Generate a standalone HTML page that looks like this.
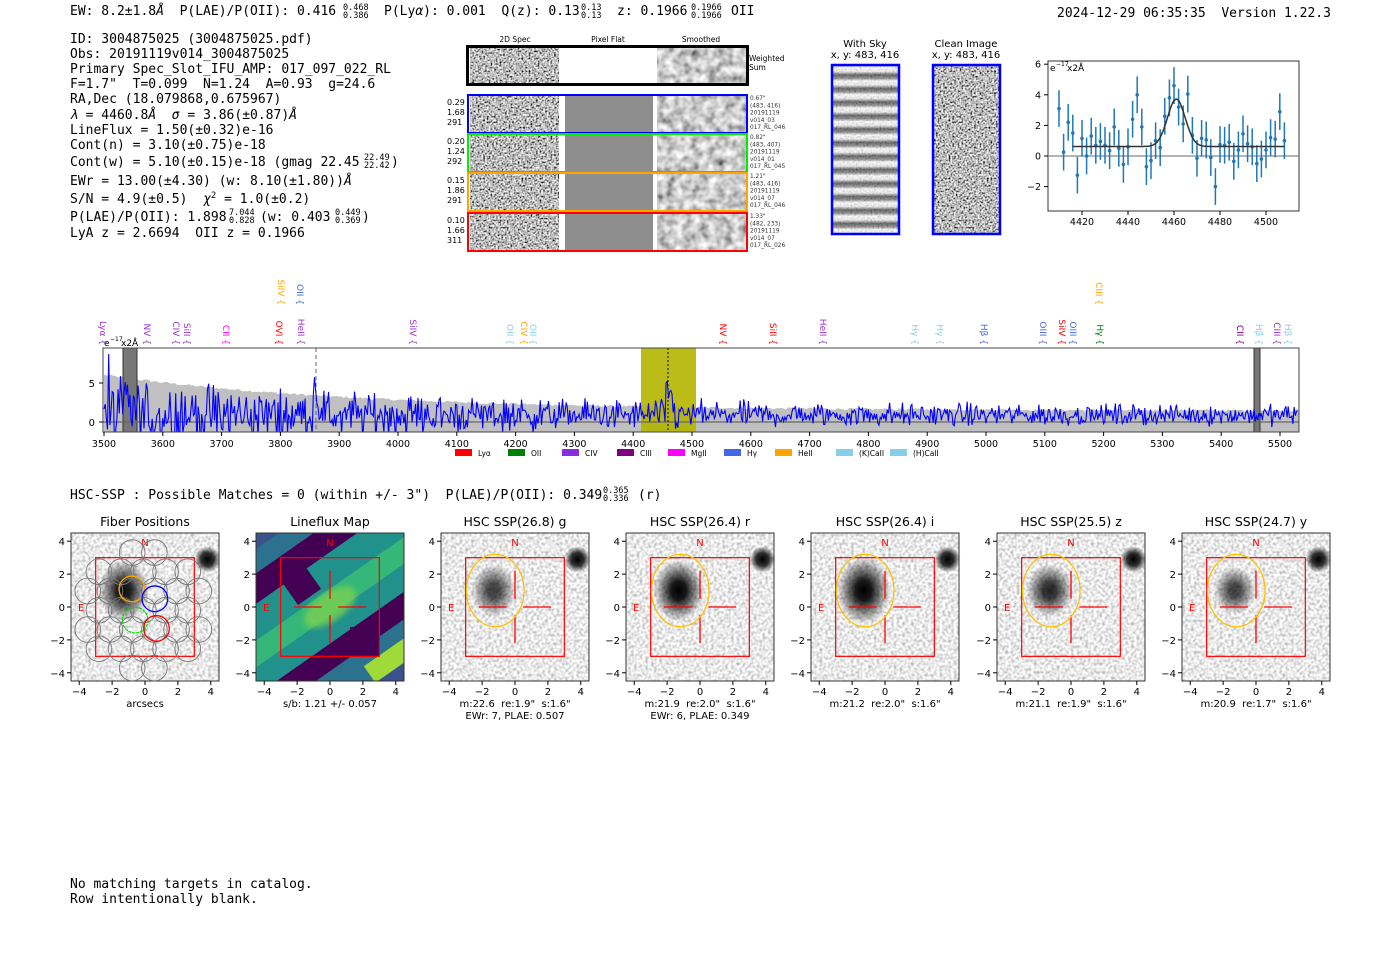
<!DOCTYPE html>
<html><head><meta charset="utf-8"><style>
body{margin:0;background:#fff;}
svg{display:block}
.m{font-family:"DejaVu Sans Mono","Liberation Mono",monospace;font-size:13px;white-space:pre}
.f{font-family:"DejaVu Sans Mono","Liberation Mono",monospace;font-size:8.5px}
.s{font-family:"DejaVu Sans","Liberation Sans",sans-serif;white-space:pre}
</style></head><body>
<svg id="sv" width="1400" height="953" viewBox="0 0 1400 953" xmlns="http://www.w3.org/2000/svg" xml:space="preserve">
<defs>
<filter id="nz" x="0" y="0" width="1" height="1"><feTurbulence type="fractalNoise" baseFrequency="0.55" numOctaves="1" seed="4"/><feColorMatrix type="matrix" values="2.2 0 0 0 -0.6 2.2 0 0 0 -0.6 2.2 0 0 0 -0.6 0 0 0 0 1"/></filter>
<filter id="nl" x="0" y="0" width="1" height="1"><feTurbulence type="fractalNoise" baseFrequency="0.35" numOctaves="1" seed="9"/><feColorMatrix type="matrix" values="1.2 0 0 0 0.22 1.2 0 0 0 0.22 1.2 0 0 0 0.22 0 0 0 0 1"/></filter>
<filter id="ns" x="0" y="0" width="1" height="1"><feTurbulence type="fractalNoise" baseFrequency="0.12" numOctaves="2" seed="2"/><feColorMatrix type="matrix" values="1.3 0 0 0 -0.05 1.3 0 0 0 -0.05 1.3 0 0 0 -0.05 0 0 0 0 1"/></filter>
<filter id="bl"><feGaussianBlur stdDeviation="3"/></filter>
<radialGradient id="gal"><stop offset="0" stop-color="#000" stop-opacity="1"/><stop offset="0.3" stop-color="#000" stop-opacity="0.9"/><stop offset="1" stop-color="#000" stop-opacity="0"/></radialGradient>
<radialGradient id="star"><stop offset="0" stop-color="#000"/><stop offset="0.5" stop-color="#000" stop-opacity="0.8"/><stop offset="1" stop-color="#000" stop-opacity="0"/></radialGradient>
<linearGradient id="sky" x1="0" y1="0" x2="0" y2="13.5" spreadMethod="repeat" gradientUnits="userSpaceOnUse"><stop offset="0" stop-color="#fff"/><stop offset="0.3" stop-color="#eee"/><stop offset="0.55" stop-color="#555"/><stop offset="0.8" stop-color="#888"/><stop offset="1" stop-color="#fff"/></linearGradient>
<clipPath id="spc"><rect x="103" y="348" width="1196" height="84"/></clipPath>
</defs>

<text class="m" x="70" y="15">EW: 8.2±1.8<tspan font-style="italic">Å</tspan>&#160; P(LAE)/P(OII): 0.416</text>
<text class="f" x="343" y="10">0.468</text><text class="f" x="343" y="18">0.386</text>
<text class="m" x="384" y="15">P(Ly<tspan font-style="italic">α</tspan>): 0.001&#160; Q(z): 0.13</text>
<text class="f" x="581" y="10">0.13</text><text class="f" x="581" y="18">0.13</text>
<text class="m" x="617" y="15">z: 0.1966</text>
<text class="f" x="691" y="10">0.1966</text><text class="f" x="691" y="18">0.1966</text>
<text class="m" x="731" y="15">OII</text>
<text class="m" x="1057" y="17">2024-12-29 06:35:35&#160; Version 1.22.3</text>

<g>
<text class="m" x="70" y="43">ID: 3004875025 (3004875025.pdf)</text>
<text class="m" x="70" y="58">Obs: 20191119v014_3004875025</text>
<text class="m" x="70" y="73">Primary Spec_Slot_IFU_AMP: 017_097_022_RL</text>
<text class="m" x="70" y="88">F=1.7"&#160; T=0.099&#160; N=1.24&#160; A=0.93&#160; g=24.6</text>
<text class="m" x="70" y="103">RA,Dec (18.079868,0.675967)</text>
<text class="m" x="70" y="119"><tspan font-style="italic">λ</tspan> = 4460.8<tspan font-style="italic">Å</tspan>&#160; <tspan font-style="italic">σ</tspan> = 3.86(±0.87)<tspan font-style="italic">Å</tspan></text>
<text class="m" x="70" y="134">LineFlux = 1.50(±0.32)e-16</text>
<text class="m" x="70" y="149">Cont(n) = 3.10(±0.75)e-18</text>
<text class="m" x="70" y="166">Cont(w) = 5.10(±0.15)e-18 (gmag 22.45</text>
<text class="f" x="364" y="160">22.49</text><text class="f" x="364" y="168">22.42</text><text class="m" x="391" y="166">)</text>
<text class="m" x="70" y="185">EWr = 13.00(±4.30) (w: 8.10(±1.80))<tspan font-style="italic">Å</tspan></text>
<text class="m" x="70" y="203">S/N = 4.9(±0.5)&#160; <tspan font-style="italic">χ</tspan><tspan style="font-size:9px" dy="-5">2</tspan><tspan dy="5"> = 1.0(±0.2)</tspan></text>
<text class="m" x="70" y="221">P(LAE)/P(OII): 1.898</text>
<text class="f" x="229" y="215">7.044</text><text class="f" x="229" y="223">0.828</text>
<text class="m" x="260" y="221">(w: 0.403</text>
<text class="f" x="335" y="215">0.449</text><text class="f" x="335" y="223">0.369</text><text class="m" x="362" y="221">)</text>
<text class="m" x="70" y="237">LyA z = 2.6694&#160; OII z = 0.1966</text>
</g>

<g class="s" font-size="7.5">
<text x="515" y="42" text-anchor="middle">2D Spec</text>
<text x="608" y="42" text-anchor="middle">Pixel Flat</text>
<text x="701" y="42" text-anchor="middle">Smoothed</text>
</g>
<rect x="470" y="47" width="89" height="37" filter="url(#nz)"/>
<rect x="657" y="47" width="89" height="37" filter="url(#ns)"/>
<rect x="467.5" y="46.5" width="280" height="38" fill="none" stroke="#000" stroke-width="3"/>
<text class="s" x="749" y="61" font-size="7.5">Weighted</text><text class="s" x="749" y="70" font-size="7.5">Sum</text>
<g id="rows"></g>

<g class="s" font-size="10" text-anchor="middle">
<text x="865" y="47">With Sky</text><text x="865" y="58">x, y: 483, 416</text>
<text x="966" y="47">Clean Image</text><text x="966" y="58">x, y: 483, 416</text>
</g>
<rect x="832" y="65" width="67" height="169" fill="url(#sky)"/>
<rect x="832" y="65" width="67" height="169" filter="url(#nz)" opacity="0.18"/>
<rect x="832" y="65" width="67" height="169" fill="none" stroke="#00f" stroke-width="2.5"/>
<rect x="933" y="65" width="67" height="169" filter="url(#nz)"/>
<rect x="933" y="65" width="67" height="169" fill="none" stroke="#00f" stroke-width="2.5"/>

<g id="fit"></g>
<g id="spec"></g>

<text class="m" x="70" y="499">HSC-SSP : Possible Matches = 0 (within +/- 3")&#160; P(LAE)/P(OII): 0.349</text>
<text class="f" x="603" y="493">0.365</text><text class="f" x="603" y="501">0.336</text>
<text class="m" x="638" y="499">(r)</text>
<g id="pan"></g>

<text class="m" x="70" y="888">No matching targets in catalog.</text>
<text class="m" x="70" y="903">Row intentionally blank.</text>
</svg>
<script>
var NS="http://www.w3.org/2000/svg";
var seed=12345;function rnd(){seed=(seed*1103515245+12345)%2147483648;return seed/2147483648;}
function gn(){return (rnd()+rnd()+rnd()+rnd()-2)*1.7;}
function E(p,tag,at,txt){var e=document.createElementNS(NS,tag);for(var k in at)e.setAttribute(k,at[k]);if(txt!==undefined)e.textContent=txt;p.appendChild(e);return e;}
var rows=document.getElementById('rows');
var rd=[[95,'#0000ff',['0.29','1.68','291'],['0.67"','(483, 416)','20191119','v014_03','017_RL_046']],
[134,'#00ee00',['0.20','1.24','292'],['0.82"','(483, 407)','20191119','v014_01','017_RL_045']],
[173,'#ffa500',['0.15','1.86','291'],['1.21"','(483, 416)','20191119','v014_07','017_RL_046']],
[213,'#ff0000',['0.10','1.66','311'],['1.33"','(482, 233)','20191119','v014_07','017_RL_026']]];
rd.forEach(function(r,i){var y=r[0];
E(rows,'rect',{x:470,y:y,width:89,height:38,filter:'url(#nz)'});
E(rows,'rect',{x:565,y:y,width:88,height:38,fill:'#8e8e8e'});
E(rows,'rect',{x:657,y:y,width:89,height:38,filter:'url(#ns)'});
E(rows,'rect',{x:468,y:y,width:279,height:38,fill:'none',stroke:r[1],'stroke-width':2});
r[2].forEach(function(t,j){E(rows,'text',{x:447,y:y+10+j*10,'class':'s','font-size':8},t);});
r[3].forEach(function(t,j){E(rows,'text',{x:750,y:y+5+j*7.3,'class':'s','font-size':5.8,fill:'#333'},t);});
});
var f=document.getElementById('fit');
function fx(l){return 1082+(l-4420)*2.30;} function fy(v){return 156-v*15.3;}
E(f,'rect',{x:1048,y:61,width:251,height:150,fill:'none',stroke:'#333'});
E(f,'line',{x1:1048,x2:1299,y1:156,y2:156,stroke:'#888','stroke-width':1.2});
[-2,0,2,4,6].forEach(function(v){E(f,'line',{x1:1044,x2:1048,y1:fy(v),y2:fy(v),stroke:'#000'});E(f,'text',{x:1041,y:fy(v)+3.5,'class':'s','font-size':9.5,'text-anchor':'end'},v<0?'−'+(-v):v);});
[4420,4440,4460,4480,4500].forEach(function(v){E(f,'line',{x1:fx(v),x2:fx(v),y1:211,y2:215,stroke:'#000'});E(f,'text',{x:fx(v),y:225,'class':'s','font-size':9.5,'text-anchor':'middle'},v);});
E(f,'text',{x:1050,y:71,'class':'s','font-size':9},'e');E(f,'text',{x:1056,y:66,'class':'s','font-size':6},'−17');E(f,'text',{x:1067,y:71,'class':'s','font-size':9},'x2Å');
var dv=[3.1,0.25,2.2,1.5,-1.25,1.15,0,1.3,0.7,0.95,0.7,0.35,1.9,0.5,-0.55,0.6,2.4,4,1.9,-0.7,-0.3,1,0.55,2.6,3.8,4.6,3.2,2.1,4.05,1.35,-0.15,1.15,1.05,-0.1,-2,0.75,0.7,0.9,-0.35,0.4,1.45,0.8,0.6,-0.5,-0.2,0.4,1.2,1.1,2.9,1.0];
dv.forEach(function(v,i){var l=4410+2*i,x=fx(l);E(f,'line',{x1:x,x2:x,y1:fy(v+1.2),y2:fy(v-1.2),stroke:'#1f77b4','stroke-width':1.5});E(f,'circle',{cx:x,cy:fy(v),r:1.8,fill:'#1f77b4'});});
var d='';for(var l=4416;l<=4508;l+=0.5){var v=0.62+3.1*Math.exp(-Math.pow(l-4461,2)/(2*3.86*3.86));d+=(d?'L':'M')+fx(l).toFixed(1)+' '+fy(v).toFixed(1);}
E(f,'path',{d:d,fill:'none',stroke:'#333','stroke-width':1.5});
var s=document.getElementById('spec');
function sx(l){return 104+(l-3500)*0.588;} function sy(v){return 422-v*7.8;}
E(s,'rect',{x:103,y:348,width:1196,height:84,fill:'#fff'});
var g=document.createElementNS(NS,'g');g.setAttribute('clip-path','url(#spc)');s.appendChild(g);
var ep='M'+sx(3500)+' 432';for(var l=3500;l<=5540;l+=4){var e=1.45+4.6*Math.exp(-(l-3500)/420)+0.3*(rnd()-0.5);ep+='L'+sx(l).toFixed(1)+' '+sy(e).toFixed(1);}ep+='L'+sx(5540)+' 432Z';
E(g,'path',{d:ep,fill:'#c0c0c0'});
E(g,'rect',{x:641,y:348,width:55,height:84,fill:'#b5b500',opacity:0.9});
E(g,'rect',{x:123,y:348,width:14,height:84,fill:'#777',stroke:'#333'});
E(g,'rect',{x:1254,y:348,width:6,height:84,fill:'#777',stroke:'#333'});
E(g,'line',{x1:103,x2:1299,y1:422,y2:422,stroke:'#666','stroke-width':1.2});
E(g,'line',{x1:316,x2:316,y1:348,y2:432,stroke:'#666','stroke-dasharray':'4,3'});
E(g,'line',{x1:668,x2:668,y1:348,y2:432,stroke:'#000','stroke-dasharray':'2,2'});
var sp='';for(var l=3500;l<=5530;l+=2){var sig=0.8+2.6*Math.exp(-(l-3500)/500);var v=0.9+gn()*sig*0.75;if(Math.abs(l-3860)<6)v+=3.5;if(Math.abs(l-4461)<6)v+=3;if(l<3560&&rnd()<0.15)v+=6*(rnd()-0.3);sp+=(sp?'L':'M')+sx(l).toFixed(1)+' '+sy(v).toFixed(1);}
E(g,'path',{d:sp,fill:'none',stroke:'#0000ff','stroke-width':1.1});
E(s,'rect',{x:103,y:348,width:1196,height:84,fill:'none',stroke:'#444'});
E(s,'line',{x1:99,x2:103,y1:383,y2:383,stroke:'#000'});E(s,'text',{x:95,y:387,'class':'s','font-size':10,'text-anchor':'end'},'5');
E(s,'line',{x1:99,x2:103,y1:422,y2:422,stroke:'#000'});E(s,'text',{x:95,y:426,'class':'s','font-size':10,'text-anchor':'end'},'0');
for(var l=3500;l<=5500;l+=100){E(s,'line',{x1:sx(l),x2:sx(l),y1:432,y2:436,stroke:'#000'});E(s,'text',{x:sx(l),y:447,'class':'s','font-size':9.5,'text-anchor':'middle'},l);}
E(s,'text',{x:104,y:346,'class':'s','font-size':9},'e');E(s,'text',{x:110,y:341,'class':'s','font-size':6},'−17');E(s,'text',{x:121,y:346,'class':'s','font-size':9},'x2Å');
var leg=[['#ff0000','Lyα',455],['#008000','OII',508],['#8a2be2','CIV',562],['#800080','CIII',617],['#ff00ff','MgII',668],['#4169e1','Hγ',724],['#ffa500','HeII',775],['#87ceeb','(K)CaII',836],['#87ceeb','(H)CaII',890]];
leg.forEach(function(a){E(s,'rect',{x:a[2],y:449,width:17,height:7,fill:a[0]});E(s,'text',{x:a[2]+23,y:456,'class':'s','font-size':7.5},a[1]);});
var lines=[[103,'Lyα {','#9932cc',345],[147,'NV {','#9932cc',345],[176,'CIV {','#9932cc',345],[187,'SiII {','#9932cc',345],[226,'CII {','#ff00ff',345],[279,'OVI {','#ff0000',345],[301,'HeII {','#9932cc',345],[281,'SiIV {','#ffa500',305],[300,'OII {','#4169e1',305],[413,'SiIV {','#9932cc',345],[510,'OII {','#87ceeb',345],[524,'CIV {','#ffa500',345],[533,'OII {','#87ceeb',345],[723,'NV {','#ff0000',345],[773,'SiII {','#ff0000',345],[823,'HeII {','#9932cc',345],[915,'Hγ {','#87ceeb',345],[940,'Hγ {','#87ceeb',345],[984,'Hβ {','#4169e1',345],[1043,'OIII {','#4169e1',345],[1062,'SiIV {','#ff0000',345],[1073,'OIII {','#4169e1',345],[1099,'CIII {','#ffa500',305],[1100,'Hγ {','#008000',345],[1240,'CII {','#800080',345],[1259,'Hβ {','#87ceeb',345],[1277,'CIII {','#9932cc',345],[1288,'Hβ {','#87ceeb',345]];
lines.forEach(function(a){E(s,'text',{x:0,y:0,'class':'s','font-size':9,style:'fill:'+a[2],'text-anchor':'end',transform:'translate('+(a[0]-3)+','+a[3]+') rotate(90)'},a[1]);});
var P=document.getElementById('pan');
var pans=[[71,'Fiber Positions',['arcsecs']],[256,'Lineflux Map',['s/b: 1.21 +/- 0.057']],[441,'HSC SSP(26.8) g',['m:22.6  re:1.9"  s:1.6"','EWr: 7, PLAE: 0.507']],[626,'HSC SSP(26.4) r',['m:21.9  re:2.0"  s:1.6"','EWr: 6, PLAE: 0.349']],[811,'HSC SSP(26.4) i',['m:21.2  re:2.0"  s:1.6"']],[997,'HSC SSP(25.5) z',['m:21.1  re:1.9"  s:1.6"']],[1182,'HSC SSP(24.7) y',['m:20.9  re:1.7"  s:1.6"']]];
var gal=[[0.9,1.1,0.95],[0.8,1.0,0.75],[0.8,0.95,0.75],[0.9,1.1,1],[0.95,1.2,1],[0.85,0.95,0.85],[0.75,0.85,0.75]];
pans.forEach(function(p,i){var x0=p[0],y0=533,W=148,cx=x0+74,cy=607,u=W/9;
var gp=E(P,'g',{});
if(i==1){E(gp,'rect',{x:x0,y:y0,width:W,height:W,fill:'#3b528b'});
var cp='cp'+i;var c=E(gp,'clipPath',{id:cp});E(c,'rect',{x:x0,y:y0,width:W,height:W});
var gg=E(gp,'g',{'clip-path':'url(#'+cp+')'});
var st=[[-60,-20,40,'#440154'],[-30,10,30,'#21918c'],[0,0,30,'#35b779'],[20,-10,26,'#21918c'],[45,20,30,'#440154'],[70,40,35,'#2c728e'],[-80,-40,20,'#2c728e']];
st.forEach(function(q){E(gg,'rect',{x:cx-150,y:cy+q[0]-q[2]/2,width:300,height:q[2],fill:q[3],transform:'rotate(-35 '+cx+' '+cy+')'});});
E(gg,'rect',{x:cx-25,y:cy-65,width:28,height:45,fill:'#440154',transform:'rotate(-35 '+cx+' '+cy+')'});
E(gg,'rect',{x:cx+20,y:cy+20,width:30,height:30,fill:'#440154'});
E(gg,'ellipse',{cx:cx,cy:cy,rx:30,ry:14,fill:'#7ad151',opacity:0.8,transform:'rotate(-35 '+cx+' '+cy+')',filter:'url(#bl)'});
E(gg,'rect',{x:x0+110,y:y0+120,width:60,height:20,fill:'#9fda3a',transform:'rotate(-35 '+(x0+130)+' '+(y0+130)+')'});
}else{
E(gp,'rect',{x:x0,y:y0,width:W,height:W,filter:'url(#nl)'});
var gv=gal[i];
E(gp,'ellipse',{cx:cx-1.3*u,cy:cy-1.0*u,rx:gv[0]*1.7*u,ry:gv[1]*1.7*u,fill:'url(#gal)',opacity:gv[2]});
E(gp,'circle',{cx:cx+3.8*u,cy:cy-2.9*u,r:0.8*u,fill:'url(#star)'});
}
E(gp,'rect',{x:x0,y:y0,width:W,height:W,fill:'none',stroke:'#333'});
E(gp,'rect',{x:cx-3*u,y:cy-3*u,width:6*u,height:6*u,fill:'none',stroke:'#f00','stroke-width':1.2});
E(gp,'text',{x:cx,y:y0+13,'class':'s','font-size':10,style:'fill:#f00','text-anchor':'middle'},'N');
E(gp,'text',{x:x0+7,y:cy+4,'class':'s','font-size':10,style:'fill:#f00'},'E');
if(i>0){[[cx-2.2*u,cy,cx-0.5*u,cy],[cx+0.5*u,cy,cx+2.2*u,cy],[cx,cy-2.2*u,cx,cy-0.5*u],[cx,cy+0.5*u,cx,cy+2.2*u]].forEach(function(l){E(gp,'line',{x1:l[0],y1:l[1],x2:l[2],y2:l[3],stroke:'#f00','stroke-width':1.3});});}
if(i>=2){E(gp,'ellipse',{cx:cx-1.2*u,cy:cy-1.0*u,rx:1.75*u,ry:2.2*u,fill:'none',stroke:'#ffc000','stroke-width':1.3});}
if(i==0){
var pts=[];for(var a=-3;a<=3;a++)for(var b=-3;b<=3;b++){var px=a*1.35+(b%2?0.67:0)-0.1,py=b*1.17-0.2;if(Math.hypot(px,py)<3.8)pts.push([px,py]);}
pts.forEach(function(q){E(gp,'circle',{cx:cx+q[0]*u,cy:cy-q[1]*u,r:0.78*u,fill:'none',stroke:'#777','stroke-width':0.9});});
[[-0.8,1.1,'#ffa500'],[0.6,0.5,'#0000ff'],[-0.6,-0.8,'#00dd00'],[0.7,-1.3,'#ff0000']].forEach(function(q){E(gp,'circle',{cx:cx+q[0]*u,cy:cy-q[1]*u,r:0.78*u,fill:'none',stroke:q[2],'stroke-width':1.3,'stroke-dasharray':q[2]=='#00dd00'?'3,1':'none'});});
}
[-4,-2,0,2,4].forEach(function(v){var tx=cx+v*u,ty=cy-v*u,lab=v<0?'−'+(-v):''+v;
E(gp,'line',{x1:tx,x2:tx,y1:y0+W,y2:y0+W+4,stroke:'#000'});E(gp,'text',{x:tx,y:y0+W+14,'class':'s','font-size':10,'text-anchor':'middle'},lab);
E(gp,'line',{x1:x0-4,x2:x0,y1:ty,y2:ty,stroke:'#000'});E(gp,'text',{x:x0-6,y:ty+4,'class':'s','font-size':10,'text-anchor':'end'},lab);});
E(gp,'text',{x:cx,y:y0-7,'class':'s','font-size':12.5,'text-anchor':'middle'},p[1]);
p[2].forEach(function(t,j){E(gp,'text',{x:cx,y:y0+W+26+j*12,'class':'s','font-size':10,'text-anchor':'middle'},t);});
});
</script>
</body></html>
